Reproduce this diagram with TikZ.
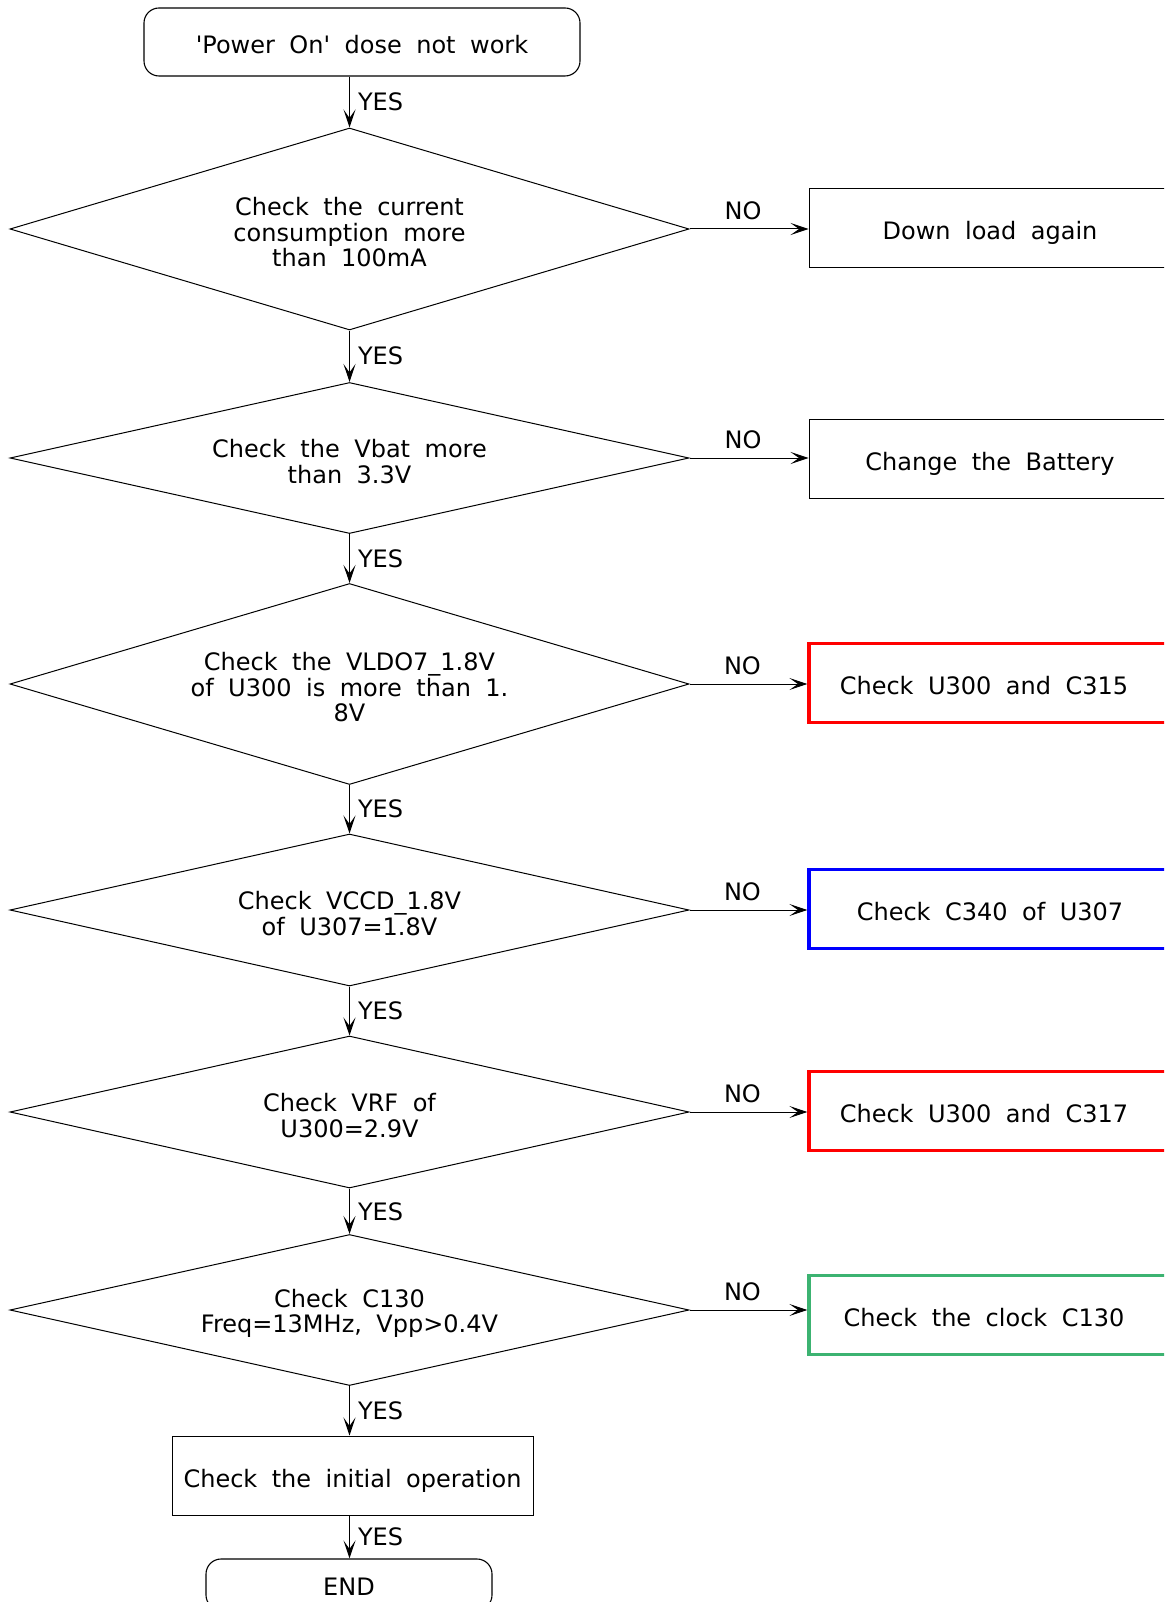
\documentclass[tikz,border=0pt]{standalone}
\usepackage{fontspec}
\setmainfont[WordSpace=1.9]{DejaVu Sans}
\usetikzlibrary{shapes.geometric,arrows.meta}
\definecolor{cred}{RGB}{255,0,0}
\definecolor{cblue}{RGB}{0,0,255}
\definecolor{cgreen}{RGB}{60,179,113}
\begin{document}
\begin{tikzpicture}[x=1pt,y=-1pt,
  font=\fontsize{24}{25.5}\selectfont,
  dec/.style={diamond, draw, line width=1pt, inner sep=0pt, minimum width=679pt, aspect=3.3},
  dtext/.style={align=center, inner sep=0pt},
  rbox/.style={draw, line width=1pt, minimum width=362pt, minimum height=79pt, inner sep=0pt, text height=23.5pt, text depth=0pt},
  term/.style={draw, rounded corners=15pt, line width=1.1pt, inner sep=0pt},
  arr/.style={-{Stealth[length=18pt,width=12pt,inset=8.5pt]}, line width=1pt},
  yes/.style={right, inner sep=0pt, xshift=8pt},
  no/.style={above, inner sep=9pt, xshift=-6pt}]
\clip (0,0) rectangle (1164,1602);
\useasboundingbox (0,0) rectangle (1164,1602);

\node[term, minimum width=436pt, minimum height=68pt, text height=23pt, text depth=0pt] (start) at (362,42) {\textquotesingle Power On\textquotesingle\ dose not work};

\node[dec, minimum height=202pt] (d1) at (349.5,229) {};
\node[dec, minimum height=151pt] (d2) at (349.5,458) {};
\node[dec, minimum height=201pt] (d3) at (349.5,684) {};
\node[dec, minimum height=152pt] (d4) at (349.5,910) {};
\node[dec, minimum height=152pt] (d5) at (349.5,1112) {};
\node[dec, minimum height=151pt] (d6) at (349.5,1310) {};

\node[dtext] (t1) at ([yshift=-3.5pt]d1.center) {Check the current\\consumption more\\than 100mA};
\node[dtext] (t2) at ([yshift=-3.5pt]d2.center) {Check the Vbat more\\than 3.3V};
\node[dtext] (t3) at ([yshift=-3.5pt]d3.center) {Check the VLDO7\_1.8V\\of U300 is more than 1.\\8V};
\node[dtext] (t4) at ([yshift=-3.5pt]d4.center) {Check VCCD\_1.8V\\of U307=1.8V};
\node[dtext] (t5) at ([yshift=-3.5pt]d5.center) {Check VRF of\\U300=2.9V};
\node[dtext] (t6) at ([yshift=-3.5pt]d6.center) {Check C130\\Freq=13MHz, Vpp>0.4V};

\node[rbox] (b1) at (990,228) {Down load again};
\node[rbox] (b2) at (990,458.5) {Change the Battery};
\node[rbox, draw=cred, line width=3.2pt] (b3) at (990,683) {\hspace*{-12pt}Check U300 and C315};
\node[rbox, draw=cblue, line width=3.2pt] (b4) at (990,909) {Check C340 of U307};
\node[rbox, draw=cred, line width=3.2pt] (b5) at (990,1111) {\hspace*{-12pt}Check U300 and C317};
\node[rbox, draw=cgreen, line width=3.2pt] (b6) at (990,1315) {\hspace*{-12pt}Check the clock C130};

\node[rbox, minimum width=361pt] (init) at (352.5,1475.5) {Check the initial operation};
\node[term, minimum width=286pt, minimum height=51pt, text height=21pt, text depth=0pt] (endn) at (349,1584.5) {END};

\draw[arr] (start.south -| d1.north) -- node[yes]{YES} (d1.north);
\draw[arr] (d1.south) -- node[yes]{YES} (d2.north);
\draw[arr] (d2.south) -- node[yes]{YES} (d3.north);
\draw[arr] (d3.south) -- node[yes]{YES} (d4.north);
\draw[arr] (d4.south) -- node[yes]{YES} (d5.north);
\draw[arr] (d5.south) -- node[yes]{YES} (d6.north);
\draw[arr] (d6.south) -- node[yes]{YES} (d6.south |- init.north);
\draw[arr] (init.south -| d6.south) -- node[yes]{YES} (d6.south |- endn.north);

\draw[arr] (d1.east) -- node[no]{NO} (d1.east -| b1.west);
\draw[arr] (d2.east) -- node[no]{NO} (d2.east -| b2.west);
\draw[arr] (d3.east) -- node[no]{NO} (d3.east -| b3.west);
\draw[arr] (d4.east) -- node[no]{NO} (d4.east -| b4.west);
\draw[arr] (d5.east) -- node[no]{NO} (d5.east -| b5.west);
\draw[arr] (d6.east) -- node[no]{NO} (d6.east -| b6.west);
\end{tikzpicture}
\end{document}
